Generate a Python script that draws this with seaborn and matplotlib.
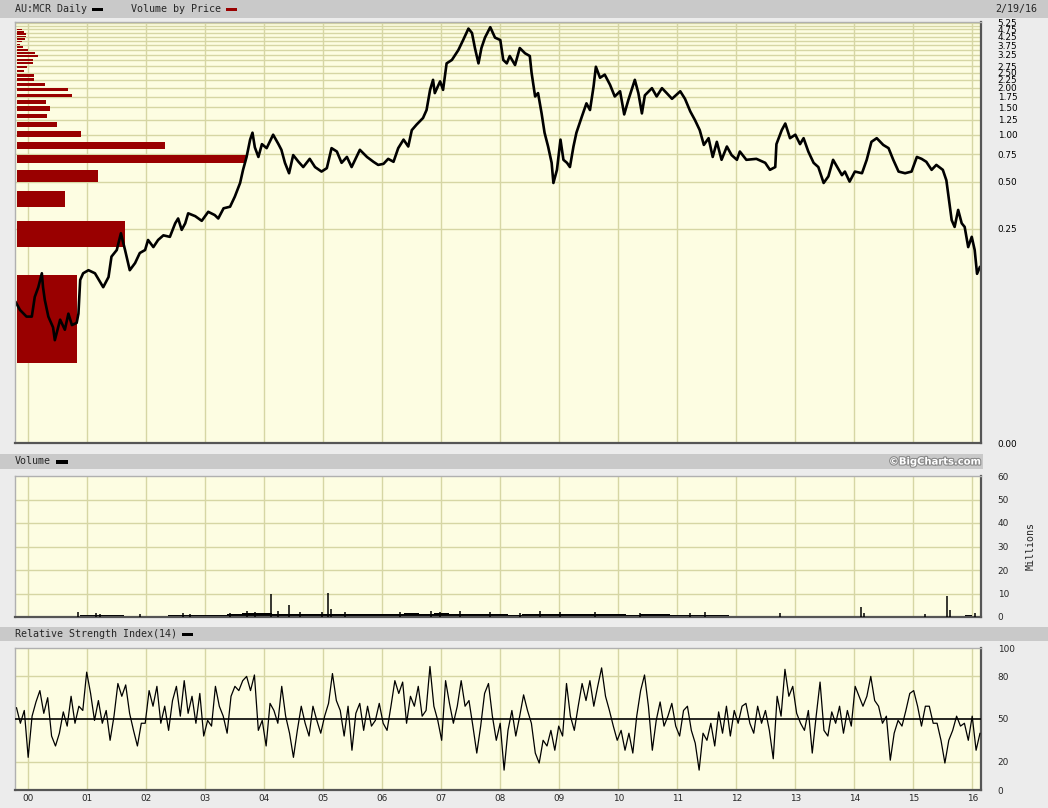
import numpy as np
import pandas as pd
import matplotlib
matplotlib.use("Agg")
import matplotlib.pyplot as plt
import seaborn as sns
from matplotlib.patches import Rectangle
from matplotlib.ticker import NullLocator, FixedLocator, FixedFormatter
import matplotlib.patheffects as pe

sns.set_theme(style="white")
plt.rcParams["font.family"] = ["DejaVu Sans"]

# ---------------- data ----------------
price_year = [1999.78, 1999.86, 1999.97, 2000.06, 2000.11, 2000.17, 2000.23, 2000.25, 2000.28, 2000.34,
              2000.42, 2000.45, 2000.54, 2000.62, 2000.68, 2000.74, 2000.82, 2000.85, 2000.88, 2000.93,
              2001.02, 2001.13, 2001.22, 2001.27, 2001.36, 2001.41, 2001.50, 2001.57, 2001.64, 2001.72,
              2001.81, 2001.89, 2001.98, 2002.03, 2002.12, 2002.20, 2002.29, 2002.40, 2002.49, 2002.54,
              2002.60, 2002.66, 2002.71, 2002.83, 2002.94, 2003.05, 2003.16, 2003.22, 2003.31, 2003.42,
              2003.50, 2003.59, 2003.64, 2003.70, 2003.76, 2003.80, 2003.84, 2003.90, 2003.96, 2004.04,
              2004.15, 2004.24, 2004.29, 2004.35, 2004.42, 2004.49, 2004.58, 2004.66, 2004.77, 2004.86,
              2004.97, 2005.06, 2005.14, 2005.23, 2005.31, 2005.40, 2005.48, 2005.62, 2005.74, 2005.85,
              2005.93, 2006.02, 2006.10, 2006.19, 2006.27, 2006.36, 2006.44, 2006.50, 2006.58, 2006.69,
              2006.75, 2006.81, 2006.86, 2006.89, 2006.98, 2007.03, 2007.09, 2007.18, 2007.29, 2007.37,
              2007.46, 2007.52, 2007.57, 2007.63, 2007.68, 2007.74, 2007.83, 2007.91, 2008.00, 2008.05,
              2008.11, 2008.16, 2008.25, 2008.33, 2008.42, 2008.50, 2008.53, 2008.59, 2008.64, 2008.70,
              2008.75, 2008.81, 2008.87, 2008.90, 2008.96, 2009.02, 2009.07, 2009.13, 2009.18, 2009.24,
              2009.29, 2009.38, 2009.46, 2009.52, 2009.58, 2009.62, 2009.69, 2009.77, 2009.86, 2009.94,
              2010.03, 2010.10, 2010.17, 2010.28, 2010.34, 2010.40, 2010.45, 2010.57, 2010.65, 2010.74,
              2010.82, 2010.91, 2011.05, 2011.13, 2011.22, 2011.30, 2011.38, 2011.45, 2011.53, 2011.60,
              2011.67, 2011.75, 2011.84, 2011.92, 2012.01, 2012.06, 2012.17, 2012.34, 2012.49, 2012.57,
              2012.66, 2012.68, 2012.77, 2012.83, 2012.91, 2013.00, 2013.08, 2013.14, 2013.22, 2013.31,
              2013.39, 2013.48, 2013.56, 2013.64, 2013.71, 2013.79, 2013.84, 2013.92, 2014.01, 2014.13,
              2014.21, 2014.29, 2014.38, 2014.49, 2014.58, 2014.66, 2014.75, 2014.86, 2014.97, 2015.06,
              2015.14, 2015.22, 2015.31, 2015.39, 2015.50, 2015.56, 2015.59, 2015.65, 2015.70, 2015.76,
              2015.82, 2015.87, 2015.93, 2015.99, 2016.04, 2016.08, 2016.13]
price_close = [0.085, 0.075, 0.068, 0.068, 0.091, 0.105, 0.129, 0.105, 0.087, 0.068,
               0.058, 0.048, 0.065, 0.056, 0.071, 0.060, 0.062, 0.071, 0.117, 0.129,
               0.135, 0.129, 0.113, 0.105, 0.122, 0.165, 0.182, 0.233, 0.182, 0.135,
               0.150, 0.174, 0.182, 0.211, 0.190, 0.211, 0.226, 0.221, 0.270, 0.290,
               0.245, 0.270, 0.313, 0.300, 0.280, 0.320, 0.305, 0.290, 0.337, 0.345,
               0.400, 0.490, 0.595, 0.720, 0.930, 1.030, 0.830, 0.720, 0.870, 0.820,
               1.000, 0.870, 0.800, 0.660, 0.566, 0.740, 0.670, 0.620, 0.700, 0.620,
               0.580, 0.610, 0.820, 0.780, 0.660, 0.720, 0.620, 0.800, 0.720, 0.670,
               0.640, 0.650, 0.700, 0.670, 0.820, 0.930, 0.840, 1.070, 1.160, 1.280,
               1.440, 1.940, 2.250, 1.850, 2.200, 1.940, 2.870, 3.020, 3.500, 4.050,
               4.800, 4.500, 3.600, 2.870, 3.600, 4.200, 4.900, 4.200, 4.050, 3.020,
               2.870, 3.200, 2.800, 3.600, 3.330, 3.200, 2.500, 1.760, 1.850, 1.370,
               1.030, 0.840, 0.660, 0.490, 0.595, 0.930, 0.690, 0.660, 0.620, 0.840,
               1.030, 1.300, 1.590, 1.440, 2.030, 2.730, 2.320, 2.430, 2.090, 1.760,
               1.900, 1.350, 1.670, 2.250, 1.850, 1.370, 1.790, 1.990, 1.760, 1.990,
               1.850, 1.700, 1.900, 1.700, 1.410, 1.240, 1.070, 0.860, 0.950, 0.720,
               0.900, 0.690, 0.840, 0.740, 0.690, 0.780, 0.690, 0.700, 0.660, 0.595,
               0.620, 0.870, 1.070, 1.180, 0.950, 1.000, 0.870, 0.950, 0.780, 0.660,
               0.620, 0.490, 0.540, 0.690, 0.620, 0.550, 0.580, 0.500, 0.580, 0.566,
               0.690, 0.900, 0.950, 0.860, 0.820, 0.690, 0.580, 0.566, 0.580, 0.720,
               0.700, 0.670, 0.595, 0.640, 0.595, 0.510, 0.420, 0.283, 0.256, 0.329,
               0.270, 0.256, 0.190, 0.221, 0.182, 0.128, 0.142]

# volume by price: bin centre price and relative volume (% of the largest bin)
vbp_price = [0.080, 0.235, 0.390, 0.545, 0.700, 0.855, 1.010, 1.165, 1.320, 1.475, 1.630, 1.785,
             1.940, 2.095, 2.250, 2.405, 2.560, 2.715, 2.870, 3.025, 3.180, 3.335, 3.490, 3.645,
             3.800, 3.955, 4.110, 4.265, 4.420, 4.575, 4.730, 4.885]
vbp_volume = [26.3, 47.2, 21.1, 35.5, 100.0, 64.7, 28.0, 17.6, 13.2, 14.5, 12.8, 24.1,
              22.4, 12.3, 7.5, 7.5, 3.2, 4.5, 7.1, 7.1, 9.3, 8.0, 4.9, 2.6,
              1.3, 2.3, 3.6, 4.1, 3.9, 3.2, 2.2, 0.3]

# daily volume (millions): background level per quarter, plus individual spikes
vol_year = [2000.00, 2000.25, 2000.50, 2000.75, 2001.00, 2001.25, 2001.50, 2001.75, 2002.00, 2002.25,
            2002.50, 2002.75, 2003.00, 2003.25, 2003.50, 2003.75, 2004.00, 2004.25, 2004.50, 2004.75,
            2005.00, 2005.25, 2005.50, 2005.75, 2006.00, 2006.25, 2006.50, 2006.75, 2007.00, 2007.25,
            2007.50, 2007.75, 2008.00, 2008.25, 2008.50, 2008.75, 2009.00, 2009.25, 2009.50, 2009.75,
            2010.00, 2010.25, 2010.50, 2010.75, 2011.00, 2011.25, 2011.50, 2011.75, 2012.00, 2012.25,
            2012.50, 2012.75, 2013.00, 2013.25, 2013.50, 2013.75, 2014.00, 2014.25, 2014.50, 2014.75,
            2015.00, 2015.25, 2015.50, 2015.75, 2016.00]
vol_level = [0.1, 0.1, 0.1, 0.3, 0.9, 0.8, 0.7, 0.6, 0.5, 0.6,
             0.8, 0.9, 0.7, 0.9, 1.2, 1.6, 1.5, 1.4, 1.2, 1.1,
             1.3, 1.4, 1.2, 1.1, 1.2, 1.3, 1.5, 1.4, 1.5, 1.3,
             1.2, 1.3, 1.2, 1.0, 1.1, 1.3, 1.2, 1.4, 1.3, 1.2,
             1.1, 1.0, 1.1, 1.2, 1.0, 0.9, 0.8, 0.7, 0.5, 0.4,
             0.4, 0.5, 0.5, 0.4, 0.4, 0.3, 0.3, 0.4, 0.4, 0.3,
             0.3, 0.3, 0.4, 0.6, 0.8]
spike_year = [2000.84, 2001.15, 2001.22, 2001.89, 2002.62, 2002.74, 2003.42, 2003.71, 2003.84, 2004.11,
              2004.23, 2004.42, 2004.61, 2004.98, 2005.08, 2005.13, 2005.37, 2006.30, 2006.82, 2006.97,
              2007.32, 2007.83, 2008.33, 2008.67, 2009.01, 2009.60, 2010.37, 2011.22, 2011.47, 2012.74,
              2014.12, 2014.17, 2015.20, 2015.57, 2015.62, 2016.05]
spike_vol = [2.0, 1.8, 1.4, 1.2, 1.6, 1.3, 1.8, 2.5, 2.2, 9.8,
             2.6, 5.0, 2.0, 2.2, 10.2, 3.5, 2.2, 2.0, 2.5, 2.3,
             2.4, 2.0, 1.8, 2.6, 2.3, 2.0, 1.8, 1.9, 2.2, 1.5,
             4.2, 1.8, 1.2, 9.0, 3.0, 1.5]

# RSI(14) samples, evenly spaced from rsi_start to rsi_end
rsi_start, rsi_end = 1999.80, 2016.13
rsi_values = [58, 47, 56, 23, 52, 62, 70, 54, 65, 38, 31, 40, 55, 45, 66, 47, 59, 56, 83, 68,
              49, 63, 47, 56, 35, 52, 75, 66, 74, 54, 42, 31, 47, 47, 70, 59, 73, 47, 59, 42,
              63, 73, 52, 77, 54, 66, 47, 68, 38, 49, 45, 73, 59, 52, 40, 66, 73, 70, 77, 80,
              70, 81, 42, 49, 31, 61, 56, 47, 73, 52, 40, 23, 42, 59, 47, 38, 59, 49, 40, 52,
              61, 82, 63, 56, 38, 59, 28, 54, 61, 42, 59, 45, 49, 61, 47, 42, 59, 77, 68, 76,
              47, 66, 59, 73, 52, 56, 87, 59, 49, 35, 77, 61, 47, 59, 77, 59, 63, 45, 26, 45,
              68, 75, 52, 35, 47, 14, 42, 56, 38, 52, 67, 56, 47, 26, 19, 35, 31, 42, 28, 45,
              38, 75, 52, 42, 59, 75, 63, 77, 59, 73, 86, 66, 56, 45, 35, 42, 28, 40, 26, 52,
              70, 81, 59, 28, 49, 62, 45, 52, 61, 45, 38, 56, 59, 42, 33, 14, 40, 35, 47, 31,
              55, 40, 59, 38, 56, 47, 59, 61, 47, 40, 59, 47, 56, 42, 22, 66, 52, 85, 66, 73,
              54, 47, 42, 56, 26, 52, 76, 42, 38, 55, 47, 59, 40, 56, 45, 73, 66, 59, 66, 80,
              63, 59, 47, 52, 21, 40, 49, 45, 56, 68, 70, 59, 45, 59, 59, 47, 47, 35, 19, 35,
              42, 52, 45, 47, 35, 52, 28, 40]

year_ticks = list(range(2000, 2017))
year_labels = ["%02d" % (y % 100) for y in year_ticks]
price_grid = [0.25 * k for k in range(1, 22)]
price_tick_vals = [5.25, 4.75, 4.25, 3.75, 3.25, 2.75, 2.50, 2.25, 2.00, 1.75, 1.50, 1.25,
                   1.00, 0.75, 0.50, 0.25]
price_axis_min, price_axis_max = 0.0105, 5.29
vol_ticks = [0, 10, 20, 30, 40, 50, 60]
rsi_ticks = [0, 20, 50, 80, 100]

# ---------------- layout / styles ----------------
W, H = 1048, 808
XMIN, XMAX = 1999.775, 2016.147
PANEL_BG = "#fdfde2"
GRID = "#d6d6a4"
BAND = "#c9c9c9"
FIG_BG = "#ececec"
VBP_RED = "#990000"
MONO = "DejaVu Sans Mono"
TICK_SIZE = 6.4

fig = plt.figure(figsize=(W / 100, H / 100), dpi=100)
fig.patch.set_facecolor(FIG_BG)


def frect(l, t, r, b):
    return [l / W, 1 - b / H, (r - l) / W, (b - t) / H]


def band(t, b, l=0, r=W):
    fig.add_artist(Rectangle((l / W, 1 - b / H), (r - l) / W, (b - t) / H,
                             transform=fig.transFigure, facecolor=BAND,
                             edgecolor="none", zorder=0))


def swatch(l, t, r, b, color):
    fig.add_artist(Rectangle((l / W, 1 - b / H), (r - l) / W, (b - t) / H,
                             transform=fig.transFigure, facecolor=color,
                             edgecolor="none", zorder=3))


def style_frame(ax):
    for s in ["top", "left"]:
        ax.spines[s].set_color("#b0b0b0")
        ax.spines[s].set_linewidth(1.0)
    for s in ["bottom", "right"]:
        ax.spines[s].set_color("#555555")
        ax.spines[s].set_linewidth(1.6)


def clear_axis(ax):
    ax.set_xticks([])
    ax.set_yticks([])
    ax.yaxis.set_minor_locator(NullLocator())
    ax.xaxis.set_minor_locator(NullLocator())
    for s in ax.spines.values():
        s.set_visible(False)


band(0, 18)
band(454, 469, 0, 983)
band(627, 641)

PRICE_RECT = frect(15, 22, 981, 443)

# grid / background layer for price panel
ax_g = fig.add_axes(PRICE_RECT)
ax_g.set_facecolor(PANEL_BG)
ax_g.set_yscale("log")
ax_g.set_ylim(price_axis_min, price_axis_max)
ax_g.set_xlim(XMIN, XMAX)
for v in price_grid:
    ax_g.axhline(v, color=GRID, lw=1.0, zorder=1)
for yr in year_ticks:
    ax_g.axvline(yr, color=GRID, lw=1.0, zorder=1)
clear_axis(ax_g)

# volume-by-price layer
ax_v = fig.add_axes(PRICE_RECT)
ax_v.set_facecolor("none")
ax_v.set_yscale("log")
ax_v.barh(vbp_price, vbp_volume, height=0.092, left=0, color=VBP_RED, edgecolor="none")
ax_v.set_ylim(price_axis_min, price_axis_max)
ax_v.set_xlim(-0.7, 420.5)
clear_axis(ax_v)

# price layer
ax_p = fig.add_axes(PRICE_RECT)
ax_p.set_facecolor("none")
price_df = pd.DataFrame({"year": price_year, "close": price_close})
sns.lineplot(data=price_df, x="year", y="close", ax=ax_p, color="black",
             lw=1.9, estimator=None, sort=False)
ax_p.set_yscale("log")
ax_p.set_ylim(price_axis_min, price_axis_max)
ax_p.set_xlim(XMIN, XMAX)
ax_p.set_xlabel("")
ax_p.set_ylabel("")
ax_p.xaxis.set_major_locator(FixedLocator([]))
ax_p.xaxis.set_minor_locator(NullLocator())
ax_p.yaxis.set_minor_locator(NullLocator())
ax_p.yaxis.tick_right()
ax_p.yaxis.set_major_locator(FixedLocator(price_tick_vals + [price_axis_min]))
ax_p.yaxis.set_major_formatter(FixedFormatter(["%.2f" % v for v in price_tick_vals] + ["0.00"]))
ax_p.tick_params(axis="y", length=0, pad=12, labelsize=TICK_SIZE, colors="black")
style_frame(ax_p)

# volume panel
ax_vol = fig.add_axes(frect(15, 476, 981, 617))
ax_vol.set_facecolor(PANEL_BG)
for v in vol_ticks[1:-1]:
    ax_vol.axhline(v, color=GRID, lw=1.0, zorder=1)
for yr in year_ticks:
    ax_vol.axvline(yr, color=GRID, lw=1.0, zorder=1)
ax_vol.fill_between(vol_year, 0, vol_level, step="mid", color="black", lw=0, zorder=2)
ax_vol.vlines(spike_year, 0, spike_vol, color="black", lw=1.1, zorder=3)
ax_vol.set_xlim(XMIN, XMAX)
ax_vol.set_ylim(0, 60)
ax_vol.set_xticks([])
ax_vol.yaxis.tick_right()
ax_vol.set_yticks(vol_ticks)
ax_vol.tick_params(axis="y", length=0, pad=12, labelsize=TICK_SIZE)
style_frame(ax_vol)

# RSI panel
ax_r = fig.add_axes(frect(15, 648, 981, 790))
ax_r.set_facecolor(PANEL_BG)
for v in [20, 80]:
    ax_r.axhline(v, color=GRID, lw=1.0, zorder=1)
for yr in year_ticks:
    ax_r.axvline(yr, color=GRID, lw=1.0, zorder=1)
rsi_df = pd.DataFrame({"year": np.linspace(rsi_start, rsi_end, len(rsi_values)),
                       "rsi": rsi_values})
sns.lineplot(data=rsi_df, x="year", y="rsi", ax=ax_r, color="black", lw=0.9,
             estimator=None, sort=False, zorder=3)
ax_r.axhline(50, color="black", lw=1.2, zorder=4)
ax_r.set_xlim(XMIN, XMAX)
ax_r.set_ylim(0, 100)
ax_r.set_xlabel("")
ax_r.set_ylabel("")
ax_r.yaxis.tick_right()
ax_r.set_yticks(rsi_ticks)
ax_r.set_xticks(year_ticks)
ax_r.set_xticklabels(year_labels)
ax_r.tick_params(axis="y", length=0, pad=12, labelsize=TICK_SIZE)
ax_r.tick_params(axis="x", length=0, pad=3, labelsize=TICK_SIZE)
style_frame(ax_r)

# header texts
def ftext(x, y, s, **kw):
    kw.setdefault("family", MONO)
    kw.setdefault("size", 7.2)
    kw.setdefault("va", "center")
    return fig.text(x / W, 1 - y / H, s, **kw)


ftext(15, 9, "AU:MCR Daily")
swatch(92, 7.5, 103, 11, "black")
ftext(131, 9, "Volume by Price")
swatch(226, 7.5, 237, 11, VBP_RED)
ftext(1037, 9, "2/19/16", ha="right")

ftext(15, 461.5, "Volume")
swatch(56, 460, 68, 463.5, "black")
t = ftext(981, 461.5, "\u00a9BigCharts.com", ha="right", family="DejaVu Sans",
          weight="bold", color="white", size=7.2)
t.set_path_effects([pe.withStroke(linewidth=1.6, foreground="#8a8a8a")])

ftext(15, 634, "Relative Strength Index(14)")
swatch(182, 632.5, 193, 636, "black")

ftext(1031, 546, "Millions", rotation=90, ha="center")

fig.savefig("out.png", dpi=100, facecolor=fig.get_facecolor())
